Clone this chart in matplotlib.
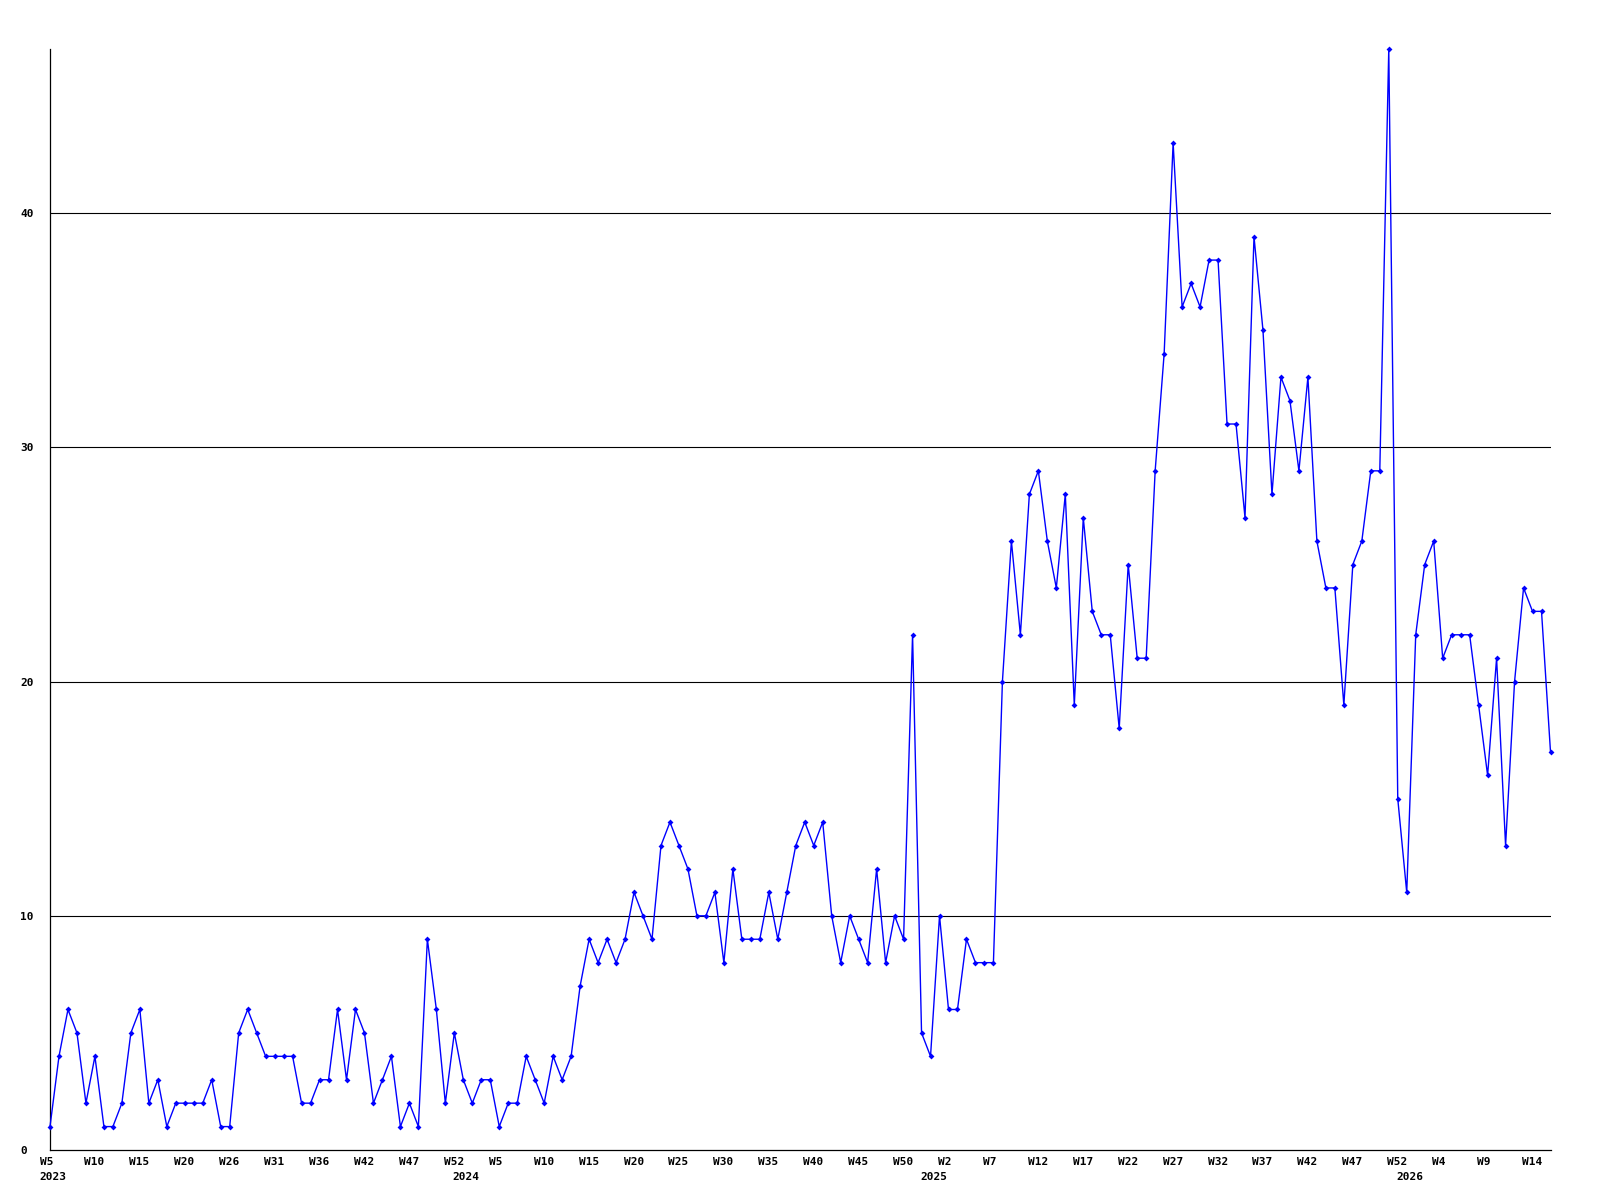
import matplotlib
matplotlib.use('Agg')
import matplotlib.pyplot as plt
import matplotlib.transforms as mtransforms

# weekly counts, one value per point (2023 W5 .. 2026 W16)
values = [1, 4, 6, 5, 2, 4, 1, 1, 2, 5, 6, 2, 3, 1, 2, 2, 2, 2, 3, 1,
          1, 5, 6, 5, 4, 4, 4, 4, 2, 2, 3, 3, 6, 3, 6,
          5, 2, 3, 4, 1, 2, 1, 9, 6, 2, 5, 3, 2, 3, 3, 1, 2, 2, 4, 3,
          2, 4, 3, 4, 7, 9, 8, 9, 8, 9, 11, 10, 9,
          13, 14, 13, 12, 10, 10, 11, 8, 12, 9, 9, 9, 11, 9, 11, 13, 14, 13, 14, 10,
          8, 10, 9, 8, 12, 8, 10,
          9, 22, 5, 4, 10, 6, 6, 9, 8, 8, 8,
          20, 26, 22, 28, 29, 26, 24, 28, 19, 27, 23, 22, 22, 18, 25, 21, 21, 29, 34, 43,
          36, 37, 36, 38, 38, 31, 31, 27, 39,
          35, 28, 33, 32, 29, 33, 26, 24, 24, 19, 25, 26, 29, 29, 47, 15, 11, 22, 25, 26,
          21, 22, 22, 22, 19, 16, 21, 13, 20, 24, 23, 23, 17]

week_labels = ['W5', 'W10', 'W15', 'W20', 'W26', 'W31', 'W36', 'W42', 'W47', 'W52',
               'W5', 'W10', 'W15', 'W20', 'W25', 'W30', 'W35', 'W40', 'W45', 'W50',
               'W2', 'W7', 'W12', 'W17', 'W22', 'W27', 'W32', 'W37', 'W42', 'W47',
               'W52', 'W4', 'W9', 'W14']
week_ticks = list(range(0, 5 * len(week_labels), 5))

years = ['2023', '2024', '2025', '2026']
year_pos = [0, 46, 98, 151]

y_ticks = [0, 10, 20, 30, 40]

font = {'family': 'DejaVu Sans Mono', 'weight': 'bold', 'size': 8}

fig = plt.figure(figsize=(16, 12), dpi=100)
ax = fig.add_axes([50 / 1600, 50 / 1200, 1500.5 / 1600, 1100.7 / 1200])

x = list(range(len(values)))
ax.plot(x, values, color='#0000ff', linewidth=1.0, marker='D', markersize=3,
        markeredgewidth=0, clip_on=False, zorder=3)

ax.set_xlim(0, len(values) - 1)
ax.set_ylim(0, 47)

# horizontal grid lines
for v in y_ticks[1:]:
    ax.axhline(v, color='black', linewidth=0.8, zorder=1)

for side in ['top', 'right']:
    ax.spines[side].set_visible(False)
for side in ['left', 'bottom']:
    ax.spines[side].set_color('black')
    ax.spines[side].set_linewidth(0.9)

ax.set_yticks(y_ticks)
ax.set_yticklabels([str(v) for v in y_ticks], fontdict=font, ha='left')
ax.tick_params(axis='y', length=0, pad=21.6)

ax.set_xticks(week_ticks)
ax.set_xticklabels(week_labels, fontdict=font, ha='left')
ax.tick_params(axis='x', length=0, pad=5)
offset = mtransforms.ScaledTranslation(-10.5 / 100, 0, fig.dpi_scale_trans)
for lab in ax.get_xticklabels():
    lab.set_transform(lab.get_transform() + offset)

for yr, pos in zip(years, year_pos):
    ax.annotate(yr, xy=(pos, 0), xycoords=('data', 'axes fraction'),
                xytext=(-7.6, -19.2), textcoords='offset points',
                ha='left', va='center', **font)

plt.savefig('out.png', dpi=100)
